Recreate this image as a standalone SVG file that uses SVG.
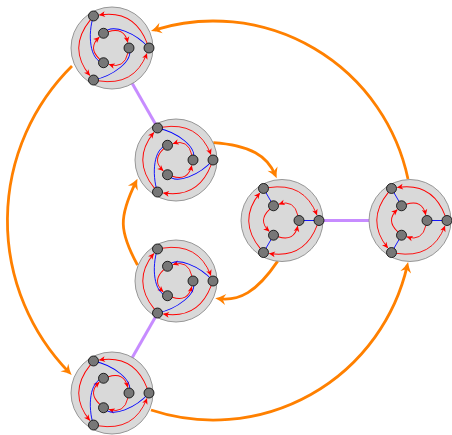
<svg xmlns="http://www.w3.org/2000/svg" width="452" height="435" viewBox="0 0 452 435">
<style>
.disk{fill:#d9d9d9;stroke:#8c8c8c;stroke-width:0.9}
.n{fill:#777;stroke:#000;stroke-width:0.8}
.r{fill:none;stroke:#f00;stroke-width:0.9;marker-end:url(#ar)}
.b{fill:none;stroke:#00f;stroke-width:0.9}
.o{fill:none;stroke:#ff8000;stroke-width:2.8;marker-end:url(#ao)}
.p{stroke:#c78cff;stroke-width:3}
</style>
<defs>
<marker id="ar" markerUnits="userSpaceOnUse" markerWidth="10" markerHeight="10" refX="0" refY="0" orient="auto" overflow="visible"><path d="M0.4,0 L-5.6,-2.8 L-4,0 L-5.6,2.8 Z" fill="#f00"/></marker>
<marker id="ao" markerUnits="userSpaceOnUse" markerWidth="20" markerHeight="20" refX="0" refY="0" orient="auto" overflow="visible"><path d="M4,0 Q-1,-1.6 -6.5,-5.5 L-3.5,0 L-6.5,5.5 Q-1,1.6 4,0 Z" fill="#ff8000"/></marker>
</defs>
<g id="connectors">
<line class="p" x1="112" y1="48" x2="176" y2="160"/>
<line class="p" x1="282" y1="220.5" x2="410" y2="220.5"/>
<line class="p" x1="176" y1="281" x2="112" y2="393"/>
<path class="o" d="M408,179 A199,199 0 0 0 154.8,29.8"/>
<path class="o" d="M151,410 A199,199 0 0 0 407.2,265.9"/>
<path class="o" d="M72,66 A217.5,217.5 0 0 0 68.9,372.2"/>
<path class="o" d="M213.3,142.7 C251.3,145.4 267.1,156.2 275.1,174.6"/>
<path class="o" d="M277.7,261.1 C256.3,292.7 239.1,301 219.2,298.7"/>
<path class="o" d="M137.5,265 C119,231 118.7,217.1 135.7,182.4"/>
</g>
<g id="c1" transform="translate(112,48)">
<circle class="disk" r="41"/>
<g transform="scale(1,-1)">
<path class="r" d="M-13.56,-32.83 Q22.25,-38.54 34.86,-5.6"/>
<path class="r" d="M-13.56,-32.83 Q22.25,-38.54 34.86,-5.6" transform="rotate(120)"/>
<path class="r" d="M-13.56,-32.83 Q22.25,-38.54 34.86,-5.6" transform="rotate(240)"/>
<path class="r" d="M15.91,-4.88 Q12.25,-21.22 -2.97,-16.45"/>
<path class="r" d="M15.91,-4.88 Q12.25,-21.22 -2.97,-16.45" transform="rotate(120)"/>
<path class="r" d="M15.91,-4.88 Q12.25,-21.22 -2.97,-16.45" transform="rotate(240)"/>
</g>
<path class="b" d="M-18.5,-32.04 C-24.5,-14.04 -22.5,12.72 -8.5,14.72"/>
<path class="b" d="M-18.5,-32.04 C-24.5,-14.04 -22.5,12.72 -8.5,14.72" transform="rotate(120)"/>
<path class="b" d="M-18.5,-32.04 C-24.5,-14.04 -22.5,12.72 -8.5,14.72" transform="rotate(240)"/>
<circle class="n" cx="-18.5" cy="-32.04" r="5"/><circle class="n" cx="37" cy="0" r="5"/><circle class="n" cx="-18.5" cy="32.04" r="5"/>
<circle class="n" cx="-8.5" cy="-14.72" r="5"/><circle class="n" cx="17" cy="0" r="5"/><circle class="n" cx="-8.5" cy="14.72" r="5"/>
</g>
<g id="c2" transform="translate(176,160)">
<circle class="disk" r="41"/>
<path class="r" d="M-13.56,-32.83 Q22.25,-38.54 34.86,-5.6"/>
<path class="r" d="M-13.56,-32.83 Q22.25,-38.54 34.86,-5.6" transform="rotate(120)"/>
<path class="r" d="M-13.56,-32.83 Q22.25,-38.54 34.86,-5.6" transform="rotate(240)"/>
<path class="r" d="M15.91,-4.88 Q12.25,-21.22 -2.97,-16.45"/>
<path class="r" d="M15.91,-4.88 Q12.25,-21.22 -2.97,-16.45" transform="rotate(120)"/>
<path class="r" d="M15.91,-4.88 Q12.25,-21.22 -2.97,-16.45" transform="rotate(240)"/>
<g transform="scale(1,-1)">
<path class="b" d="M-18.5,-32.04 C-24.5,-14.04 -22.5,12.72 -8.5,14.72"/>
<path class="b" d="M-18.5,-32.04 C-24.5,-14.04 -22.5,12.72 -8.5,14.72" transform="rotate(120)"/>
<path class="b" d="M-18.5,-32.04 C-24.5,-14.04 -22.5,12.72 -8.5,14.72" transform="rotate(240)"/>
</g>
<circle class="n" cx="-18.5" cy="-32.04" r="5"/><circle class="n" cx="37" cy="0" r="5"/><circle class="n" cx="-18.5" cy="32.04" r="5"/>
<circle class="n" cx="-8.5" cy="-14.72" r="5"/><circle class="n" cx="17" cy="0" r="5"/><circle class="n" cx="-8.5" cy="14.72" r="5"/>
</g>
<g id="c3" transform="translate(282,220.5)">
<circle class="disk" r="41"/>
<path class="r" d="M-13.56,-32.83 Q22.25,-38.54 34.86,-5.6"/>
<path class="r" d="M-13.56,-32.83 Q22.25,-38.54 34.86,-5.6" transform="rotate(120)"/>
<path class="r" d="M-13.56,-32.83 Q22.25,-38.54 34.86,-5.6" transform="rotate(240)"/>
<path class="r" d="M15.91,-4.88 Q12.25,-21.22 -2.97,-16.45"/>
<path class="r" d="M15.91,-4.88 Q12.25,-21.22 -2.97,-16.45" transform="rotate(120)"/>
<path class="r" d="M15.91,-4.88 Q12.25,-21.22 -2.97,-16.45" transform="rotate(240)"/>
<path class="b" d="M-18.5,-32.04 L-8.5,-14.72 M37,0 L17,0 M-18.5,32.04 L-8.5,14.72"/>
<circle class="n" cx="-18.5" cy="-32.04" r="5"/><circle class="n" cx="37" cy="0" r="5"/><circle class="n" cx="-18.5" cy="32.04" r="5"/>
<circle class="n" cx="-8.5" cy="-14.72" r="5"/><circle class="n" cx="17" cy="0" r="5"/><circle class="n" cx="-8.5" cy="14.72" r="5"/>
</g>
<g id="c4" transform="translate(410,220.5)">
<circle class="disk" r="41"/>
<g transform="scale(1,-1)">
<path class="r" d="M-13.56,-32.83 Q22.25,-38.54 34.86,-5.6"/>
<path class="r" d="M-13.56,-32.83 Q22.25,-38.54 34.86,-5.6" transform="rotate(120)"/>
<path class="r" d="M-13.56,-32.83 Q22.25,-38.54 34.86,-5.6" transform="rotate(240)"/>
<path class="r" d="M15.91,-4.88 Q12.25,-21.22 -2.97,-16.45"/>
<path class="r" d="M15.91,-4.88 Q12.25,-21.22 -2.97,-16.45" transform="rotate(120)"/>
<path class="r" d="M15.91,-4.88 Q12.25,-21.22 -2.97,-16.45" transform="rotate(240)"/>
</g>
<path class="b" d="M-18.5,-32.04 L-8.5,-14.72 M37,0 L17,0 M-18.5,32.04 L-8.5,14.72"/>
<circle class="n" cx="-18.5" cy="-32.04" r="5"/><circle class="n" cx="37" cy="0" r="5"/><circle class="n" cx="-18.5" cy="32.04" r="5"/>
<circle class="n" cx="-8.5" cy="-14.72" r="5"/><circle class="n" cx="17" cy="0" r="5"/><circle class="n" cx="-8.5" cy="14.72" r="5"/>
</g>
<g id="c5" transform="translate(176,281)">
<circle class="disk" r="41"/>
<path class="r" d="M-13.56,-32.83 Q22.25,-38.54 34.86,-5.6"/>
<path class="r" d="M-13.56,-32.83 Q22.25,-38.54 34.86,-5.6" transform="rotate(120)"/>
<path class="r" d="M-13.56,-32.83 Q22.25,-38.54 34.86,-5.6" transform="rotate(240)"/>
<path class="r" d="M15.91,-4.88 Q12.25,-21.22 -2.97,-16.45"/>
<path class="r" d="M15.91,-4.88 Q12.25,-21.22 -2.97,-16.45" transform="rotate(120)"/>
<path class="r" d="M15.91,-4.88 Q12.25,-21.22 -2.97,-16.45" transform="rotate(240)"/>
<path class="b" d="M-18.5,-32.04 C-24.5,-14.04 -22.5,12.72 -8.5,14.72"/>
<path class="b" d="M-18.5,-32.04 C-24.5,-14.04 -22.5,12.72 -8.5,14.72" transform="rotate(120)"/>
<path class="b" d="M-18.5,-32.04 C-24.5,-14.04 -22.5,12.72 -8.5,14.72" transform="rotate(240)"/>
<circle class="n" cx="-18.5" cy="-32.04" r="5"/><circle class="n" cx="37" cy="0" r="5"/><circle class="n" cx="-18.5" cy="32.04" r="5"/>
<circle class="n" cx="-8.5" cy="-14.72" r="5"/><circle class="n" cx="17" cy="0" r="5"/><circle class="n" cx="-8.5" cy="14.72" r="5"/>
</g>
<g id="c6" transform="translate(112,393)">
<circle class="disk" r="41"/>
<g transform="scale(1,-1)">
<path class="r" d="M-13.56,-32.83 Q22.25,-38.54 34.86,-5.6"/>
<path class="r" d="M-13.56,-32.83 Q22.25,-38.54 34.86,-5.6" transform="rotate(120)"/>
<path class="r" d="M-13.56,-32.83 Q22.25,-38.54 34.86,-5.6" transform="rotate(240)"/>
<path class="r" d="M15.91,-4.88 Q12.25,-21.22 -2.97,-16.45"/>
<path class="r" d="M15.91,-4.88 Q12.25,-21.22 -2.97,-16.45" transform="rotate(120)"/>
<path class="r" d="M15.91,-4.88 Q12.25,-21.22 -2.97,-16.45" transform="rotate(240)"/>
<path class="b" d="M-18.5,-32.04 C-24.5,-14.04 -22.5,12.72 -8.5,14.72"/>
<path class="b" d="M-18.5,-32.04 C-24.5,-14.04 -22.5,12.72 -8.5,14.72" transform="rotate(120)"/>
<path class="b" d="M-18.5,-32.04 C-24.5,-14.04 -22.5,12.72 -8.5,14.72" transform="rotate(240)"/>
</g>
<circle class="n" cx="-18.5" cy="-32.04" r="5"/><circle class="n" cx="37" cy="0" r="5"/><circle class="n" cx="-18.5" cy="32.04" r="5"/>
<circle class="n" cx="-8.5" cy="-14.72" r="5"/><circle class="n" cx="17" cy="0" r="5"/><circle class="n" cx="-8.5" cy="14.72" r="5"/>
</g>
</svg>
